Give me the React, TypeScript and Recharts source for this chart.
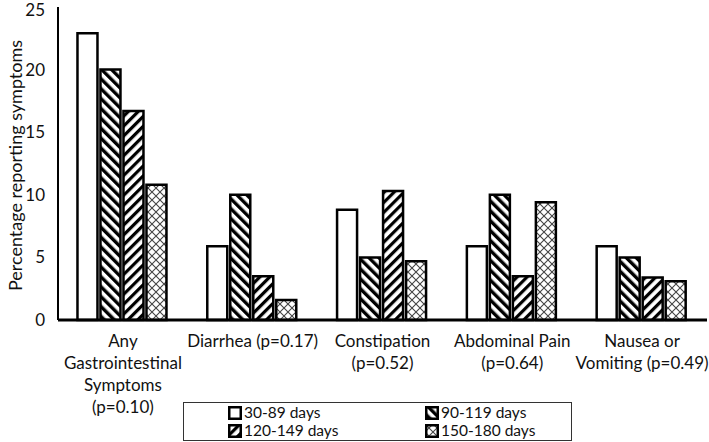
import { BarChart, Bar, XAxis, YAxis, Legend } from "recharts";

const categories = [
  "Any Gastrointestinal Symptoms (p=0.10)",
  "Diarrhea (p=0.17)",
  "Constipation (p=0.52)",
  "Abdominal Pain (p=0.64)",
  "Nausea or Vomiting (p=0.49)",
];
const tickLines = [
  ["Any", "Gastrointestinal", "Symptoms", "(p=0.10)"],
  ["Diarrhea (p=0.17)"],
  ["Constipation", "(p=0.52)"],
  ["Abdominal Pain", "(p=0.64)"],
  ["Nausea or", "Vomiting (p=0.49)"],
];
const days30to89 = [22.9, 5.9, 8.8, 5.9, 5.9];
const days90to119 = [20, 10, 5.0, 10, 5.0];
const days120to149 = [16.7, 3.5, 10.3, 3.5, 3.4];
const days150to180 = [10.8, 1.6, 4.7, 9.4, 3.1];
const yTicks = [0, 5, 10, 15, 20, 25];

const series = [
  { key: "d1", name: "30-89 days", fill: "#fff" },
  { key: "d2", name: "90-119 days", fill: "url(#hatchDown)" },
  { key: "d3", name: "120-149 days", fill: "url(#hatchUp)" },
  { key: "d4", name: "150-180 days", fill: "url(#crossHatch)" },
];

const data = categories.map((c, i) => ({
  cat: c,
  d1: days30to89[i],
  d2: days90to119[i],
  d3: days120to149[i],
  d4: days150to180[i],
}));

const font = "Lato, 'Open Sans', sans-serif";

function CatTick(props: any) {
  const { x, y, index } = props;
  const lines = tickLines[index] || [];
  return (
    <text x={x} y={y} textAnchor="middle" fontFamily={font} fontSize={17} fill="#111">
      {lines.map((l, i) => (
        <tspan key={i} x={x} y={y + 19 + i * 22}>
          {l}
        </tspan>
      ))}
    </text>
  );
}

function YTitle(props: any) {
  const vb = props.viewBox || { x: 0, y: 7, height: 313 };
  const cx = vb.x + 15;
  const cy = vb.y + vb.height / 2 + 2;
  return (
    <text
      x={cx}
      y={cy}
      transform={`rotate(-90 ${cx} ${cy})`}
      textAnchor="middle"
      dominantBaseline="central"
      fontFamily={font}
      fontSize={18}
      fill="#111"
    >
      Percentage reporting symptoms
    </text>
  );
}

function LegendBox() {
  return (
    <div
      style={{
        boxSizing: "border-box",
        width: 389,
        height: 39,
        border: "1.5px solid #333",
        position: "relative",
        fontFamily: font,
        fontSize: 15.5,
        lineHeight: "17px",
        color: "#111",
        background: "#fff",
      }}
    >
      {series.map((s, i) => {
        const col = i % 2;
        const row = Math.floor(i / 2);
        return (
          <div
            key={s.key}
            style={{
              position: "absolute",
              left: col === 0 ? 44 : 241,
              top: row === 0 ? 1 : 19,
              display: "flex",
              alignItems: "center",
              height: 17,
              whiteSpace: "nowrap",
            }}
          >
            <svg width={14} height={14} style={{ marginRight: 2 }}>
              <rect x={1.25} y={1.25} width={11.5} height={11.5} fill={s.fill} stroke="#000" strokeWidth={2.5} />
            </svg>
            <span>{s.name}</span>
          </div>
        );
      })}
    </div>
  );
}

export default function App() {
  return (
    <div style={{ position: "absolute", left: 0, top: 0, background: "#fff" }}>
      <BarChart
        width={709}
        height={442}
        data={data}
        margin={{ top: 7, right: 2, left: 0, bottom: 0 }}
        barCategoryGap="15%"
        barGap={3}
      >
        <defs>
          <pattern id="hatchDown" patternUnits="userSpaceOnUse" width={7} height={7} patternTransform="rotate(-45)">
            <rect x={0} y={0} width={7} height={7} fill="#fff" />
            <rect x={0} y={0} width={3.4} height={7} fill="#000" />
          </pattern>
          <pattern id="hatchUp" patternUnits="userSpaceOnUse" width={7} height={7} patternTransform="rotate(45)">
            <rect x={0} y={0} width={7} height={7} fill="#fff" />
            <rect x={0} y={0} width={3.2} height={7} fill="#000" />
          </pattern>
          <pattern id="crossHatch" patternUnits="userSpaceOnUse" width={8} height={8}>
            <rect x={0} y={0} width={8} height={8} fill="#fff" />
            <path d="M0 0 L8 8 M8 0 L0 8" stroke="#444" strokeWidth={1.1} />
          </pattern>
        </defs>
        <XAxis
          dataKey="cat"
          interval={0}
          tick={<CatTick />}
          tickLine={false}
          axisLine={{ stroke: "#000", strokeWidth: 3 }}
          height={122}
        />
        <YAxis
          domain={[0, 25]}
          ticks={yTicks}
          width={58}
          tickLine={false}
          tickMargin={7}
          axisLine={{ stroke: "#000", strokeWidth: 2 }}
          tick={{ fontFamily: font, fontSize: 17, fill: "#111" }}
          label={<YTitle />}
        />
        <Legend
          verticalAlign="middle"
          align="center"
          content={<LegendBox />}
          wrapperStyle={{ position: "absolute", left: 183, top: 402, width: 389, height: 39 }}
        />
        {series.map((s) => (
          <Bar
            key={s.key}
            dataKey={s.key}
            name={s.name}
            fill={s.fill}
            stroke="#000"
            strokeWidth={2.5}
            isAnimationActive={false}
          />
        ))}
      </BarChart>
    </div>
  );
}
